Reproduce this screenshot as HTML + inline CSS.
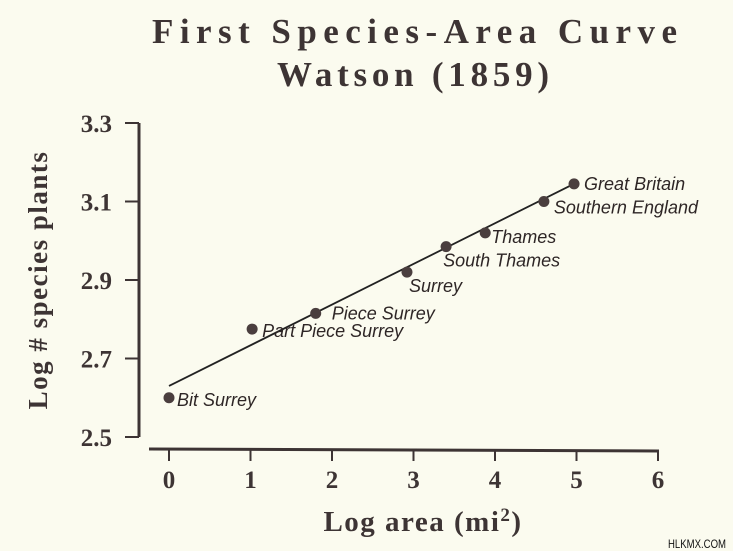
<!DOCTYPE html>
<html><head><meta charset="utf-8"><style>
html,body{margin:0;padding:0;background:#fbfbef;}
svg{display:block;}
.serif{font-family:"Liberation Serif",serif;fill:#3d3434;}
.lbl{font-family:"Liberation Sans",sans-serif;font-style:italic;font-size:18px;fill:#2e2626;}
</style></head><body>
<svg id="chart" width="733" height="551" viewBox="0 0 733 551">
<rect width="733" height="551" fill="#fbfbef"/>
<text class="serif" x="152" y="43" font-size="35" font-weight="bold" textLength="525" lengthAdjust="spacing">First Species-Area Curve</text>
<text class="serif" x="277" y="86" font-size="35" font-weight="bold" textLength="272" lengthAdjust="spacing">Watson (1859)</text>
<text class="serif" font-size="27" font-weight="bold" transform="translate(47,280) rotate(-90)" text-anchor="middle" letter-spacing="1.5">Log # species plants</text>
<text class="serif" x="423" y="531" font-size="29" font-weight="bold" text-anchor="middle" letter-spacing="1.5">Log area (mi<tspan font-size="19" dy="-10">2</tspan><tspan dy="10">)</tspan></text>
<text x="726" y="548" font-family="Liberation Sans,sans-serif" font-size="12" fill="#111" text-anchor="end" textLength="58" lengthAdjust="spacingAndGlyphs">HLKMX.COM</text>
<g id="axes"></g>
<g id="marks"></g>
</svg>
<script>
const names = ["Bit Surrey","Part Piece Surrey","Piece Surrey","Surrey","South Thames","Thames","Southern England","Great Britain"];
const logArea = [0, 1.02, 1.8, 2.92, 3.4, 3.88, 4.6, 4.97];
const logSpecies = [2.60, 2.775, 2.815, 2.92, 2.985, 3.02, 3.10, 3.145];
const xTicks = [0,1,2,3,4,5,6];
const yTicks = ["2.5","2.7","2.9","3.1","3.3"];
const fitStart = [0, 2.63];
const fitEnd = [4.97, 3.145];

const NS = "http://www.w3.org/2000/svg";
const X = v => 169 + v * (658 - 169) / 6;
const Y = v => 437 - (v - 2.5) * (437 - 123) / 0.8;
function mk(tag, attrs, parent){const e=document.createElementNS(NS,tag);for(const k in attrs)e.setAttribute(k,attrs[k]);parent.appendChild(e);return e;}
const axes=document.getElementById('axes'), marks=document.getElementById('marks');
const ink="#3d3434";

let yl=mk('line',{x1:139,y1:Y(3.3),x2:139,y2:Y(2.5),stroke:ink,'stroke-width':3},axes);


let xl=mk('line',{x1:149,y1:449,x2:659,y2:451,stroke:ink,'stroke-width':3},axes);



yTicks.forEach(t=>{
  const v=parseFloat(t);
  let l=mk('line',{x1:125,y1:Y(v),x2:139,y2:Y(v),stroke:ink,'stroke-width':2},axes);
  
  
  let tx=mk('text',{x:112,y:Y(v)+9,'text-anchor':'end','font-size':25,'font-weight':'bold',class:'serif'},axes);
  tx.textContent=t;
  
  
});
xTicks.forEach(t=>{
  let l=mk('line',{x1:X(t),y1:450,x2:X(t),y2:461,stroke:ink,'stroke-width':2},axes);
  
  
  let tx=mk('text',{x:X(t),y:488,'text-anchor':'middle','font-size':25,'font-weight':'bold',class:'serif'},axes);
  tx.textContent=String(t);
  
  
});

let fit=mk('line',{x1:X(fitStart[0]),y1:Y(fitStart[1]),x2:X(fitEnd[0]),y2:Y(fitEnd[1]),stroke:'#222','stroke-width':1.8},marks);



const offs=[[8,8],[10,8],[16,6],[2,20],[-3,20],[6,10],[10,12],[10,6]];
names.forEach((n,i)=>{
  const cx=X(logArea[i]), cy=Y(logSpecies[i]);
  let c=mk('circle',{cx:cx,cy:cy,r:5.5,fill:'#4a3e3e'},marks);
  
  
  let t=mk('text',{x:cx+offs[i][0],y:cy+offs[i][1],class:'lbl'},marks);
  t.textContent=n;
  
  
});
</script>
</body></html>
